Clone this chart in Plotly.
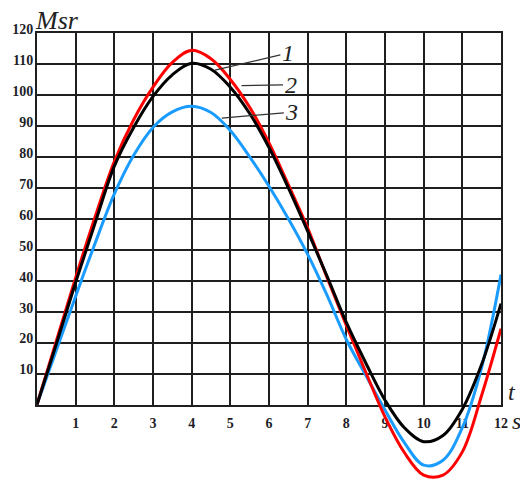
import plotly.graph_objects as go

# ---- data ----
t_vals = [0, 0.5, 1, 1.5, 2, 2.5, 3, 3.5, 4, 4.5, 5, 5.5, 6, 6.5, 7, 7.5, 8, 8.5, 9, 9.5, 10, 10.5, 11, 11.5, 12]
curve1_red = [0, 20.5, 41, 60.5, 78.5, 92, 102.5, 110.5, 114.4, 111.7, 105, 96, 84.5, 71, 57, 41, 25.5, 10.5, -4, -15.5, -22.8, -22.8, -15.3, 3, 24.5]
curve2_black = [0, 19.5, 39.5, 58.5, 77, 89.5, 99.5, 106.5, 110.2, 108.3, 102.5, 94, 83, 70, 56, 41.5, 26.5, 13.5, 1.4, -7.5, -12, -10, -1.5, 13, 32.6]
curve3_blue = [0, 17.5, 35, 52, 68, 80.5, 89.5, 94.5, 96.3, 94.3, 88.5, 80, 70.5, 60, 48.5, 35.3, 21, 9.5, -1.8, -12.3, -19.6, -18, -7.5, 12, 42]

x_ticks = list(range(1, 13))
x_tick_labels = [str(v) for v in x_ticks]
y_ticks = list(range(10, 130, 10))
y_tick_labels = [str(v) for v in y_ticks]

W, H = 520, 479
ML, MR, MT, MB = 37, 19, 33, 0
plot_h = H - MT - MB
zero_px_from_bottom = 479 - 404.5
d0 = zero_px_from_bottom / plot_h  # grid subplot bottom (y = 0)
y_min = -120 * d0 / (1 - d0)

grid_col = "#1f1f1f"
tick_font = dict(family="Liberation Serif", size=14, color="#1e1e28", weight="bold")
label_font = dict(family="Liberation Serif", size=24, color="#222222", style="italic")

fig = go.Figure()

# empty trace so the grid subplot (x, y) is drawn
fig.add_trace(go.Scatter(x=[None], y=[None], mode="lines", xaxis="x", yaxis="y",
                         showlegend=False, hoverinfo="skip"))

series = [
    (curve1_red, "#ff0000", "1"),
    (curve2_black, "#000000", "2"),
    (curve3_blue, "#1a9cff", "3"),
]
for ys, col, name in [series[2], series[0], series[1]]:
    fig.add_trace(go.Scatter(
        x=t_vals, y=ys, mode="lines", name=name,
        line=dict(color=col, width=3, shape="spline", smoothing=1.0),
        xaxis="x2", yaxis="y2", showlegend=False,
    ))

fig.update_layout(
    width=W, height=H,
    margin=dict(l=ML, r=MR, t=MT, b=MB),
    paper_bgcolor="white",
    plot_bgcolor="rgba(0,0,0,0)",
    xaxis=dict(
        domain=[0, 1], range=[0, 12], anchor="y",
        tickvals=x_ticks, ticktext=x_tick_labels,
        showgrid=True, gridcolor=grid_col, gridwidth=2,
        showline=True, mirror=True, linecolor=grid_col, linewidth=2,
        zeroline=False, ticks="", tickfont=tick_font, ticklabelstandoff=5,
        fixedrange=True,
    ),
    yaxis=dict(
        domain=[d0, 1], range=[0, 120], anchor="x",
        tickvals=y_ticks, ticktext=y_tick_labels,
        showgrid=True, gridcolor=grid_col, gridwidth=2,
        showline=True, mirror=True, linecolor=grid_col, linewidth=2,
        zeroline=False, ticks="", tickfont=tick_font, ticklabelstandoff=-1,
        ticklabelshift=-4,
        fixedrange=True,
    ),
    xaxis2=dict(domain=[0, 1], range=[0, 12], anchor="y2", visible=False, fixedrange=True),
    yaxis2=dict(domain=[0, 1], range=[y_min, 120], anchor="x2", visible=False, fixedrange=True),
)

def px_to_paper(px, py):
    return (px - ML) / (W - ML - MR), (H - MB - py) / plot_h

annots = []
for txt, (px, py), fs in [("Msr", (57, 20), 26), ("t", (512, 392), 24), ("s", (516, 421), 24)]:
    xp, yp = px_to_paper(px, py)
    annots.append(dict(text=txt, x=xp, y=yp, xref="paper", yref="paper", showarrow=False,
                       xanchor="center", yanchor="middle",
                       font=dict(family="Liberation Serif", size=fs, color="#222222", style="italic")))

# curve labels with leader lines (anchor points on curves in data coords)
for txt, (xd, yd), (axp, ayp) in [
    ("1", (4.60, 108.0), (73, -17)),
    ("2", (5.29, 103.0), (49, -1)),
    ("3", (4.78, 92.5), (70, -6)),
]:
    annots.append(dict(text=txt, x=xd, y=yd, xref="x2", yref="y2", showarrow=True,
                       ax=axp, ay=ayp, arrowhead=0, arrowwidth=1.2, arrowcolor="#333333",
                       standoff=0, font=label_font))

fig.update_layout(annotations=annots)

fig.write_html("out.html", config={"displayModeBar": False},
               post_script="document.body.style.margin='0';")
